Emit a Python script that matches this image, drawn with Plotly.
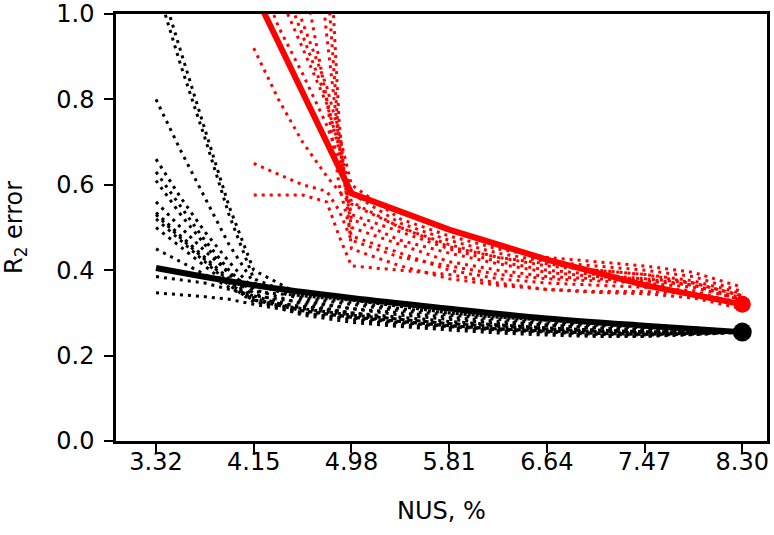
import plotly.graph_objects as go

# ---------------- data ----------------
X_TICKS = [3.32, 4.15, 4.98, 5.81, 6.64, 7.47, 8.30]
X_TICK_LABELS = ["3.32", "4.15", "4.98", "5.81", "6.64", "7.47", "8.30"]
Y_TICKS = [0.0, 0.2, 0.4, 0.6, 0.8, 1.0]
Y_TICK_LABELS = ["0.0", "0.2", "0.4", "0.6", "0.8", "1.0"]

# black individual runs (dotted)
X_BLACK = [3.32, 3.53, 3.735, 3.94, 4.15, 4.565, 4.98, 5.395, 5.81, 6.225, 6.64, 7.055, 7.47, 7.885, 8.30]
black_b1 = [1.07, 0.88, 0.71, 0.53, 0.38, 0.335, 0.32, 0.305, 0.295, 0.285, 0.275, 0.27, 0.265, 0.26, 0.255]
black_b2 = [1.10, 0.91, 0.73, 0.55, 0.40, 0.34, 0.325, 0.31, 0.30, 0.29, 0.28, 0.272, 0.268, 0.262, 0.256]
black_b3 = [0.80, 0.68, 0.57, 0.46, 0.37, 0.33, 0.31, 0.295, 0.285, 0.275, 0.27, 0.265, 0.26, 0.258, 0.255]
black_b4 = [0.66, 0.57, 0.49, 0.42, 0.355, 0.32, 0.30, 0.285, 0.275, 0.27, 0.262, 0.258, 0.255, 0.254, 0.255]
black_b5 = [0.63, 0.55, 0.47, 0.40, 0.345, 0.31, 0.295, 0.28, 0.27, 0.262, 0.258, 0.252, 0.25, 0.252, 0.255]
black_b6 = [0.61, 0.53, 0.46, 0.39, 0.34, 0.305, 0.29, 0.278, 0.268, 0.26, 0.255, 0.25, 0.248, 0.25, 0.255]
black_b7 = [0.535, 0.48, 0.43, 0.38, 0.335, 0.30, 0.285, 0.272, 0.265, 0.258, 0.252, 0.248, 0.246, 0.25, 0.255]
black_b8 = [0.52, 0.47, 0.42, 0.37, 0.33, 0.305, 0.29, 0.28, 0.27, 0.263, 0.257, 0.253, 0.25, 0.252, 0.255]
black_b9 = [0.50, 0.455, 0.41, 0.365, 0.325, 0.31, 0.295, 0.285, 0.275, 0.268, 0.262, 0.257, 0.254, 0.254, 0.255]
black_b10 = [0.45, 0.42, 0.39, 0.36, 0.33, 0.315, 0.30, 0.29, 0.28, 0.272, 0.265, 0.26, 0.256, 0.255, 0.255]
black_b11 = [0.385, 0.378, 0.37, 0.355, 0.34, 0.325, 0.31, 0.30, 0.29, 0.28, 0.272, 0.265, 0.26, 0.257, 0.255]
black_b12 = [0.347, 0.343, 0.338, 0.332, 0.32, 0.30, 0.288, 0.276, 0.268, 0.262, 0.258, 0.255, 0.253, 0.254, 0.255]
black_b13 = [0.56, 0.50, 0.445, 0.395, 0.35, 0.34, 0.33, 0.315, 0.30, 0.29, 0.283, 0.278, 0.272, 0.265, 0.256]
black_b14 = [0.53, 0.475, 0.425, 0.375, 0.33, 0.295, 0.278, 0.268, 0.26, 0.253, 0.248, 0.245, 0.245, 0.249, 0.255]
BLACK_RUNS = [black_b1, black_b2, black_b3, black_b4, black_b5, black_b6, black_b7,
              black_b8, black_b9, black_b10, black_b11, black_b12, black_b13, black_b14]

# black mean (thick)
X_BLACK_MEAN = [3.32, 4.15, 4.98, 5.81, 6.64, 7.47, 8.30]
Y_BLACK_MEAN = [0.405, 0.365, 0.335, 0.31, 0.287, 0.27, 0.255]

# red individual runs (dotted)
X_RED = [4.15, 4.36, 4.565, 4.77, 4.875, 4.98, 5.395, 5.81, 6.225, 6.64, 7.055, 7.47, 7.885, 8.30]
red_r1 = [0.92, 0.80, 0.70, 0.62, 0.585, 0.555, 0.50, 0.46, 0.43, 0.41, 0.40, 0.39, 0.37, 0.34]
red_r2 = [0.65, 0.625, 0.60, 0.585, 0.54, 0.47, 0.43, 0.41, 0.39, 0.38, 0.375, 0.37, 0.36, 0.33]
red_r3 = [0.576, 0.576, 0.576, 0.56, 0.48, 0.41, 0.40, 0.39, 0.37, 0.355, 0.348, 0.345, 0.335, 0.31]
red_r4 = [1.12, 0.97, 0.86, 0.74, 0.66, 0.53, 0.49, 0.45, 0.42, 0.40, 0.39, 0.38, 0.365, 0.335]
red_r5 = [1.25, 1.05, 0.92, 0.79, 0.69, 0.58, 0.51, 0.47, 0.44, 0.42, 0.41, 0.40, 0.385, 0.35]
red_r6 = [1.50, 1.15, 0.98, 0.83, 0.72, 0.60, 0.52, 0.48, 0.45, 0.43, 0.42, 0.41, 0.395, 0.36]
red_r7 = [3.00, 2.50, 2.00, 1.10, 0.70, 0.50, 0.46, 0.42, 0.40, 0.385, 0.38, 0.375, 0.365, 0.33]
red_r8 = [3.50, 3.00, 2.40, 1.30, 0.75, 0.45, 0.41, 0.38, 0.365, 0.355, 0.35, 0.35, 0.345, 0.325]
red_r9 = [1.80, 1.40, 1.10, 0.80, 0.60, 0.48, 0.44, 0.40, 0.38, 0.37, 0.365, 0.36, 0.352, 0.318]
red_r10 = [2.50, 2.00, 1.50, 0.95, 0.70, 0.52, 0.47, 0.44, 0.415, 0.395, 0.385, 0.38, 0.37, 0.34]
red_r11 = [1.30, 1.10, 0.95, 0.80, 0.68, 0.56, 0.50, 0.455, 0.43, 0.415, 0.40, 0.39, 0.375, 0.345]
RED_RUNS = [red_r1, red_r2, red_r3, red_r4, red_r5, red_r6, red_r7, red_r8, red_r9, red_r10, red_r11]

# red mean (thick)
X_RED_MEAN = [4.15, 4.98, 5.81, 6.64, 7.47, 8.30]
Y_RED_MEAN = [1.053, 0.58, 0.495, 0.425, 0.365, 0.32]

# ---------------- figure ----------------
BLACK = "#000000"
RED = "#ff0000"
DOT = "3px,5px"

fig = go.Figure()

for ys in BLACK_RUNS:
    fig.add_trace(go.Scatter(x=X_BLACK, y=ys, mode="lines",
                             line=dict(color=BLACK, width=3, dash=DOT),
                             showlegend=False, hoverinfo="skip"))

fig.add_trace(go.Scatter(x=X_BLACK_MEAN, y=Y_BLACK_MEAN, mode="lines",
                         line=dict(color=BLACK, width=6, shape="spline"),
                         showlegend=False))
fig.add_trace(go.Scatter(x=[X_BLACK_MEAN[-1]], y=[Y_BLACK_MEAN[-1]], mode="markers",
                         marker=dict(color=BLACK, size=19),
                         showlegend=False, cliponaxis=False))

for ys in RED_RUNS:
    fig.add_trace(go.Scatter(x=X_RED, y=ys, mode="lines",
                             line=dict(color=RED, width=3, dash=DOT),
                             showlegend=False, hoverinfo="skip"))

fig.add_trace(go.Scatter(x=X_RED_MEAN, y=Y_RED_MEAN, mode="lines",
                         line=dict(color=RED, width=6),
                         showlegend=False))
fig.add_trace(go.Scatter(x=[X_RED_MEAN[-1]], y=[Y_RED_MEAN[-1]], mode="markers",
                         marker=dict(color=RED, size=17),
                         showlegend=False, cliponaxis=False))

FONT = "DejaVu Sans"
fig.update_layout(
    width=774, height=535,
    margin=dict(l=116, r=7, t=14, b=94),
    paper_bgcolor="white", plot_bgcolor="white",
    font=dict(family=FONT, size=24, color="black"),
    xaxis=dict(
        range=[2.98, 8.51], automargin=False,
        tickmode="array", tickvals=X_TICKS, ticktext=X_TICK_LABELS,
        ticks="outside", ticklen=9, tickwidth=2, tickcolor="black",
        showline=True, linewidth=2.5, linecolor="black", mirror=True,
        showgrid=False, zeroline=False,
        ticklabelstandoff=-12, ticklabeloverflow="allow",
        title=dict(text="NUS, %", standoff=28, font=dict(size=24)),
    ),
    yaxis=dict(
        range=[0, 1.0], automargin=False,
        tickmode="array", tickvals=Y_TICKS, ticktext=Y_TICK_LABELS,
        ticks="outside", ticklen=9, tickwidth=2, tickcolor="black",
        showline=True, linewidth=2.5, linecolor="black", mirror=True,
        showgrid=False, zeroline=False,
        ticklabelstandoff=5, ticklabeloverflow="allow",
        title=dict(text="R<sub>2</sub> error", standoff=35, font=dict(size=24)),
    ),
)

fig.write_html("out.html",
               config={"displayModeBar": False},
               post_script="document.body.style.margin='0px';document.body.style.overflow='hidden';")
